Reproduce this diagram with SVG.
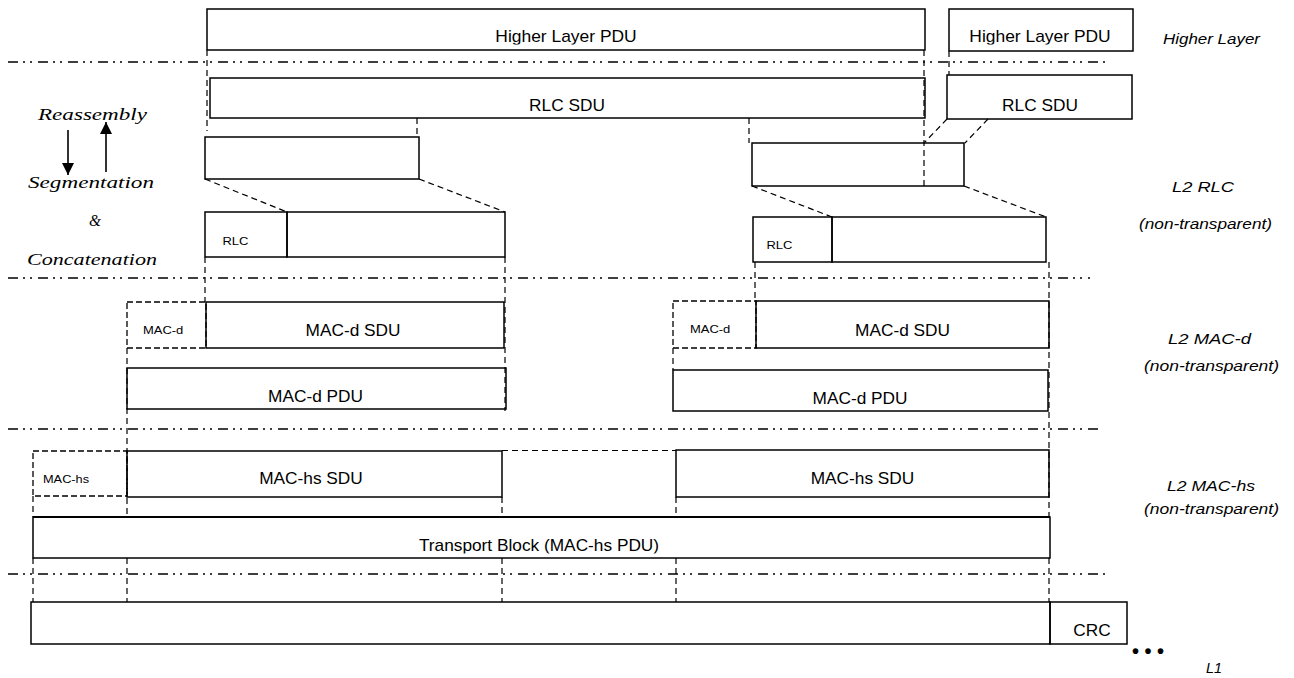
<svg xmlns="http://www.w3.org/2000/svg" width="1294" height="678" viewBox="0 0 1294 678">
<style>
.box{fill:none;stroke:#000;stroke-width:1.5}
.hdr{fill:none;stroke:#000;stroke-width:1.3;stroke-dasharray:6 3}
.dash{fill:none;stroke:#000;stroke-width:1.2;stroke-dasharray:6 4}
.layer{fill:none;stroke:#000;stroke-width:1.3;stroke-dasharray:10 5 2 5 2 6}
.t{font-family:"Liberation Sans",Arial,sans-serif;font-size:16px;fill:#000;text-anchor:middle}
.s{font-family:"Liberation Sans",Arial,sans-serif;font-size:11px;fill:#000}
.lab{font-family:"Liberation Sans",Arial,sans-serif;font-size:15.5px;font-style:italic;fill:#000}
.mi{font-family:"Liberation Serif","Times New Roman",serif;font-size:16px;font-style:italic;fill:#000}
.arr{stroke:#000;stroke-width:1.6;fill:none}
</style>
<defs>
<marker id="ah" viewBox="0 0 10 10" refX="10" refY="5" markerWidth="12" markerHeight="12" markerUnits="userSpaceOnUse" orient="auto">
<path d="M0,0 L10,5 L0,10 Z" fill="#000"/>
</marker>
<clipPath id="cHL1"><rect x="207" y="9" width="718" height="35.5"/></clipPath>
<clipPath id="cHL2"><rect x="949" y="9" width="184" height="35.5"/></clipPath>
<clipPath id="cTB"><rect x="33" y="517" width="1017" height="36.5"/></clipPath>
</defs>

<g id="layer-lines">
<line class="layer" x1="8" y1="62" x2="1105" y2="62"/>
<line class="layer" x1="8" y1="278" x2="1090" y2="278"/>
<line class="layer" x1="8" y1="429" x2="1103" y2="429"/>
<line class="layer" x1="8" y1="574" x2="1106" y2="574"/>
</g>

<g id="connectors">
<line class="dash" x1="207" y1="50" x2="207" y2="131"/>
<line class="dash" x1="417" y1="118" x2="417" y2="137"/>
<line class="dash" x1="749" y1="118" x2="749" y2="143"/>
<line class="dash" x1="924" y1="50" x2="924" y2="186"/>
<line class="dash" x1="949" y1="51" x2="949" y2="75"/>
<line class="dash" x1="947" y1="119" x2="924" y2="143"/>
<line class="dash" x1="988" y1="119" x2="965" y2="143"/>
<line class="dash" x1="205" y1="179" x2="287" y2="212"/>
<line class="dash" x1="419" y1="179" x2="505" y2="212"/>
<line class="dash" x1="752" y1="186" x2="832" y2="217"/>
<line class="dash" x1="964" y1="186" x2="1046" y2="217"/>
<line class="dash" x1="205" y1="257" x2="205" y2="302"/>
<line class="dash" x1="505" y1="257" x2="505" y2="411"/>
<line class="dash" x1="755" y1="262" x2="755" y2="301"/>
<line class="dash" x1="1049" y1="262" x2="1049" y2="517"/>
<line class="dash" x1="1049" y1="558" x2="1049" y2="602"/>
<line class="dash" x1="127" y1="348" x2="127" y2="517"/>
<line class="dash" x1="127" y1="558" x2="127" y2="602"/>
<line class="dash" x1="673" y1="348" x2="673" y2="370"/>
<line class="dash" x1="33" y1="496" x2="33" y2="517"/>
<line class="dash" x1="33" y1="558" x2="33" y2="602"/>
<line class="dash" x1="502" y1="497" x2="502" y2="517"/>
<line class="dash" x1="502" y1="558" x2="502" y2="602"/>
<line class="dash" x1="676" y1="497" x2="676" y2="517"/>
<line class="dash" x1="676" y1="558" x2="676" y2="602"/>
<line class="dash" x1="502" y1="450.5" x2="676" y2="450.5"/>
</g>

<g id="higher-layer-pdu-1">
<rect class="box" x="207" y="9" width="718" height="41"/>
<g clip-path="url(#cHL1)"><text class="t" transform="translate(566,42) scale(1.09,1)">Higher Layer PDU</text></g>
</g>
<g id="higher-layer-pdu-2">
<rect class="box" x="949" y="9" width="184" height="42"/>
<g clip-path="url(#cHL2)"><text class="t" transform="translate(1040,42) scale(1.09,1)">Higher Layer PDU</text></g>
</g>

<g id="rlc-sdu-1">
<rect class="box" x="210" y="78" width="715" height="40"/>
<text class="t" transform="translate(567,111) scale(1.08,1)">RLC SDU</text>
</g>
<g id="rlc-sdu-2">
<rect class="box" x="947" y="75" width="185" height="44"/>
<text class="t" transform="translate(1040,111) scale(1.08,1)">RLC SDU</text>
</g>

<g id="segment-1"><rect class="box" x="205" y="137" width="214" height="42"/></g>
<g id="segment-2"><rect class="box" x="752" y="143" width="212" height="43"/></g>

<g id="rlc-pdu-1">
<rect class="box" x="205" y="212" width="82" height="45"/>
<rect class="box" x="287" y="212" width="218" height="45"/>
<text class="s" transform="translate(222.5,245) scale(1.18,1)">RLC</text>
</g>
<g id="rlc-pdu-2">
<rect class="box" x="753" y="217" width="79" height="45"/>
<rect class="box" x="832" y="217" width="214" height="45"/>
<text class="s" transform="translate(766.5,249) scale(1.18,1)">RLC</text>
</g>

<g id="mac-d-1">
<rect class="hdr" x="127" y="302" width="79" height="46"/>
<text class="s" transform="translate(143,334) scale(1.18,1)">MAC-d</text>
<rect class="box" x="206" y="302" width="298" height="46"/>
<text class="t" transform="translate(353,336) scale(1.08,1)">MAC-d SDU</text>
</g>
<g id="mac-d-pdu-1">
<rect class="box" x="127" y="368" width="379" height="41"/>
<text class="t" transform="translate(315.5,402) scale(1.08,1)">MAC-d PDU</text>
</g>

<g id="mac-d-2">
<rect class="hdr" x="673" y="301" width="83" height="47"/>
<text class="s" transform="translate(690,333) scale(1.18,1)">MAC-d</text>
<rect class="box" x="756" y="301" width="293" height="47"/>
<text class="t" transform="translate(902.5,335.5) scale(1.08,1)">MAC-d SDU</text>
</g>
<g id="mac-d-pdu-2">
<rect class="box" x="673" y="370" width="375" height="41"/>
<text class="t" transform="translate(860,404) scale(1.08,1)">MAC-d PDU</text>
</g>

<g id="mac-hs-1">
<rect class="hdr" x="33" y="451" width="94" height="45"/>
<text class="s" transform="translate(43,482.5) scale(1.16,1)">MAC-hs</text>
<rect class="box" x="127" y="451" width="375" height="46"/>
<text class="t" transform="translate(311,484) scale(1.08,1)">MAC-hs SDU</text>
</g>
<g id="mac-hs-2">
<rect class="box" x="676" y="450" width="373" height="47"/>
<text class="t" transform="translate(862.5,483.5) scale(1.08,1)">MAC-hs SDU</text>
</g>

<g id="transport-block">
<rect class="box" x="33" y="517" width="1017" height="41"/>
<line x1="33" y1="517" x2="1050" y2="517" stroke="#000" stroke-width="2"/>
<g clip-path="url(#cTB)"><text class="t" transform="translate(539,551) scale(1.08,1)">Transport Block (MAC-hs PDU)</text></g>
</g>

<g id="l1-block">
<rect class="box" x="31" y="602" width="1019" height="42"/>
</g>
<g id="crc">
<rect class="box" x="1050" y="602" width="77" height="42"/>
<text class="t" transform="translate(1092,636) scale(1.08,1)">CRC</text>
</g>
<g id="ellipsis">
<text x="1132" y="658" font-family="Liberation Sans, Arial, sans-serif" font-size="20" font-weight="bold" textLength="32" lengthAdjust="spacing">•••</text>
</g>

<g id="side-labels">
<text class="lab" x="1163" y="44" textLength="97" lengthAdjust="spacingAndGlyphs">Higher Layer</text>
<text class="lab" x="1172" y="192" textLength="62" lengthAdjust="spacingAndGlyphs">L2 RLC</text>
<text class="lab" x="1139" y="229" textLength="133" lengthAdjust="spacingAndGlyphs">(non-transparent)</text>
<text class="lab" x="1168" y="344" textLength="83" lengthAdjust="spacingAndGlyphs">L2 MAC-d</text>
<text class="lab" x="1144" y="371" textLength="135" lengthAdjust="spacingAndGlyphs">(non-transparent)</text>
<text class="lab" x="1167" y="491" textLength="88" lengthAdjust="spacingAndGlyphs">L2 MAC-hs</text>
<text class="lab" x="1144" y="514" textLength="135" lengthAdjust="spacingAndGlyphs">(non-transparent)</text>
<text class="lab" x="1206" y="673" textLength="16" lengthAdjust="spacingAndGlyphs">L1</text>
</g>

<g id="process-labels">
<text class="mi" x="38" y="120" textLength="109" lengthAdjust="spacingAndGlyphs">Reassembly</text>
<text class="mi" x="28" y="188" textLength="126" lengthAdjust="spacingAndGlyphs">Segmentation</text>
<text class="mi" x="89" y="226" textLength="12" lengthAdjust="spacingAndGlyphs">&amp;</text>
<text class="mi" x="27" y="265" textLength="130" lengthAdjust="spacingAndGlyphs">Concatenation</text>
<line class="arr" x1="68" y1="130" x2="68" y2="175" marker-end="url(#ah)"/>
<line class="arr" x1="106" y1="172" x2="106" y2="122" marker-end="url(#ah)"/>
</g>
</svg>
